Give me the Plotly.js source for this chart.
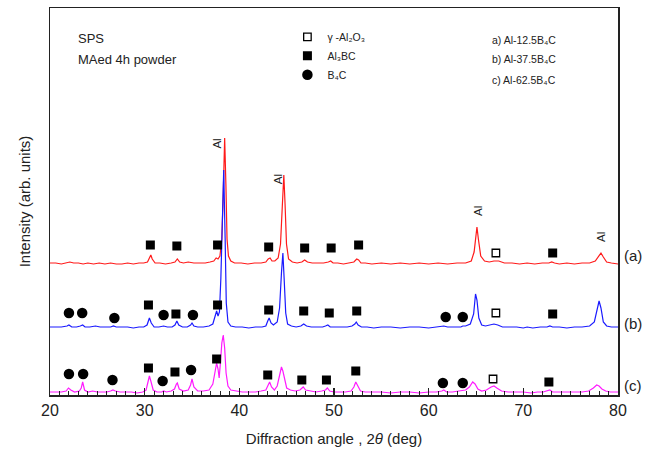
<!DOCTYPE html>
<html><head><meta charset="utf-8">
<script src="https://cdn.plot.ly/plotly-3.0.1.min.js"></script>
<style>html,body{margin:0;padding:0;background:#fff}#chart{width:654px;height:455px}</style>
</head><body><div id="chart"></div>
<script>
// ---- data (2θ in deg, intensity in arbitrary units above each pattern's baseline) ----
const sampleLabels = ['(a)', '(b)', '(c)'];
const sampleNames = ['Al-12.5B₄C', 'Al-37.5B₄C', 'Al-62.5B₄C'];
const phaseNames = ['γ -Al₂O₃', 'Al₃BC', 'B₄C'];
const baselines = [131, 67, 2];

const patternA = [[20,1],[20.6,1],[21.2,0],[21.8,1],[22.1,2],[22.5,1],[23,1],[23.5,0],[24,1],[24.6,0],[25.2,1],[25.8,0],[26.4,1],[27,0],[27.6,0],[28.2,1],[28.8,0],[29.4,1],[29.9,1],[30.3,2],[30.5,6],[30.65,9],[30.8,5],[31.1,1],[31.6,1],[32.2,0],[32.8,1],[33.2,2],[33.45,5],[33.7,2],[34.1,1],[34.6,2],[35.2,1],[35.8,1],[36.4,1],[36.9,2],[37.3,3],[37.55,6],[37.75,5],[37.95,8],[38.15,25],[38.3,70],[38.45,126],[38.58,80],[38.7,25],[38.85,8],[39.1,3],[39.5,1],[40.2,1],[40.9,0],[41.6,1],[42.3,1],[42.8,2],[43.05,5],[43.25,6],[43.45,3],[43.75,3],[44.1,6],[44.35,20],[44.55,60],[44.7,89],[44.83,60],[44.98,20],[45.2,5],[45.6,2],[46.1,1],[46.6,2],[46.9,4],[47.2,2],[47.7,1],[48.3,1],[48.9,1],[49.4,2],[49.65,3],[49.9,1],[50.4,1],[51,0],[51.6,1],[52.1,2],[52.4,5],[52.6,4],[52.85,1],[53.3,1],[54,0],[55,1],[56,0],[57,1],[58,0],[59,1],[60,0],[61,1],[62,0],[63,1],[63.9,1],[64.5,3],[64.8,12],[65.0,32],[65.1,37],[65.25,25],[65.5,8],[65.9,3],[66.4,2],[66.9,3],[67.4,3],[68,1],[68.8,1],[69.6,0],[70.4,1],[71.2,0],[72,1],[72.7,1],[73.0,2],[73.3,1],[73.8,0],[74.6,1],[75.4,0],[76.2,1],[77,1],[77.6,3],[77.95,8],[78.2,11],[78.45,7],[78.8,2],[79.3,1],[80,0]];

const patternB = [[20,1],[20.6,1],[21.2,1],[21.8,2],[22.0,3],[22.3,1],[22.8,1],[23.2,2],[23.45,3],[23.7,1],[24.2,1],[24.8,2],[25.3,1],[25.9,1],[26.4,1],[26.7,2],[27,1],[27.6,1],[28.2,1],[28.8,0],[29.4,1],[29.9,1],[30.25,3],[30.5,10],[30.7,5],[31,1],[31.5,1],[32.0,2],[32.4,1],[32.9,1],[33.2,3],[33.4,7],[33.6,3],[34,1],[34.5,1],[34.85,3],[35.0,5],[35.2,2],[35.6,1],[36.2,1],[36.8,2],[37.2,4],[37.45,14],[37.6,17],[37.75,12],[37.9,16],[38.05,50],[38.2,120],[38.35,158],[38.5,90],[38.62,25],[38.8,6],[39.1,2],[39.6,1],[40.3,1],[41,0],[41.7,1],[42.4,1],[42.8,2],[43.0,7],[43.15,10],[43.35,5],[43.6,3],[44.0,6],[44.25,20],[44.45,55],[44.6,75],[44.73,50],[44.9,15],[45.1,4],[45.5,2],[46,1],[46.5,2],[46.8,4],[47.1,2],[47.6,1],[48.2,1],[48.8,1],[49.1,2],[49.35,3],[49.6,1],[50.2,1],[50.8,1],[51.4,1],[51.9,2],[52.2,4],[52.35,6],[52.55,3],[52.9,1],[53.5,1],[54.2,0],[55,1],[56,1],[57,0],[58,1],[59,1],[60,0],[61,1],[61.6,2],[62,1],[62.8,1],[63.4,1],[63.6,2],[63.9,2],[64.4,4],[64.75,14],[64.95,34],[65.1,28],[65.3,10],[65.6,3],[66,2],[66.5,3],[66.9,4],[67.3,3],[67.8,1],[68.5,1],[69.3,1],[70,0],[70.4,1],[71,0],[71.8,1],[72.5,1],[72.8,2],[73.1,1],[73.8,1],[74.6,0],[75.4,1],[76.2,1],[77,2],[77.5,6],[77.8,18],[78.0,27],[78.2,20],[78.45,6],[78.8,2],[79.3,1],[80,1]];

const patternC = [[20,1],[20.6,1],[21.2,1],[21.7,2],[21.95,5],[22.2,3],[22.6,1],[23.1,2],[23.3,5],[23.45,11],[23.65,3],[24,1],[24.5,2],[25,1],[25.5,1],[26,1],[26.4,2],[26.65,3],[26.9,2],[27.4,1],[28,1],[28.6,1],[29.2,0],[29.8,1],[30.15,3],[30.35,10],[30.5,17],[30.65,12],[30.9,3],[31.3,1],[31.8,1],[32.0,2],[32.3,1],[32.8,2],[33.15,4],[33.35,9],[33.45,10],[33.65,4],[34.1,2],[34.6,3],[34.85,8],[35.0,14],[35.2,6],[35.6,2],[36.2,2],[36.8,3],[37.2,9],[37.45,22],[37.6,30],[37.75,24],[37.87,15],[38.0,30],[38.15,50],[38.3,58],[38.45,45],[38.6,20],[38.8,7],[39.1,3],[39.6,2],[40.3,1],[41,1],[41.7,1],[42.3,2],[42.8,3],[43.05,8],[43.2,11],[43.4,6],[43.7,3],[44,7],[44.25,17],[44.45,26],[44.6,22],[44.8,12],[45.0,5],[45.4,3],[45.9,2],[46.4,3],[46.75,6],[47.0,3],[47.5,2],[48.1,1],[48.7,2],[49.1,3],[49.3,5],[49.55,2],[50,1],[50.6,1],[51.2,1],[51.8,2],[52.1,6],[52.3,11],[52.5,7],[52.8,2],[53.3,1],[54,1],[55,1],[56,0],[57,1],[58,1],[59,0],[60,1],[60.8,1],[61.4,2],[61.6,3],[61.9,1],[62.5,1],[63.2,2],[63.6,3],[63.9,3],[64.3,6],[64.65,11],[64.9,9],[65.2,4],[65.6,2],[66.1,3],[66.6,6],[66.9,7],[67.2,5],[67.7,2],[68.4,1],[69.2,1],[70,1],[70.8,0],[71.5,1],[72.1,1],[72.5,2],[72.8,3],[73.1,1],[73.8,1],[74.6,1],[75.4,1],[76.2,1],[76.9,2],[77.4,5],[77.75,8],[78.0,7],[78.3,4],[78.7,2],[79.2,1],[79.6,1],[80,1]];

// phase markers (2θ, plotted height)
const al2o3X = [67.1, 67.1, 66.8];
const al2o3Y = [142, 82, 16];
const al3bcX = [30.6,33.4,37.7,43.1,46.9,49.7,52.6,73.1, 30.4,33.3,37.7,43.1,46.8,49.5,52.4,73.1, 30.4,33.2,37.6,43.0,46.6,49.2,52.3,72.7];
const al3bcY = [150,149,150,148,147,147,150,142, 90,81,90,85,84,82,84,81, 27,23,36,20,15,15,24,13];
const b4cX = [22.0,23.4,26.8,32.0,35.1,61.8,63.6, 22.0,23.5,26.6,31.9,34.9,61.5,63.6];
const b4cY = [82,82,77,80,80,78,78, 21,21,15,14,25,12,12];

// Al peak labels
const alLabelX = [37.6, 44.1, 65.2, 78.2];
const alLabelY = [251, 216, 184, 158];

// ---- drawing ----
const FONT = 'Liberation Sans, Arial, Helvetica, DejaVu Sans, sans-serif';
const colors = ['#ff1a1a', '#1a1aff', '#ff1aff'];
const patterns = [patternA, patternB, patternC];

const traces = patterns.map((p, i) => ({
  type: 'scatter', mode: 'lines', name: sampleNames[i], showlegend: false,
  x: p.map(d => d[0]), y: p.map(d => d[1] + baselines[i]),
  line: {color: colors[i], width: 1.2}, hoverinfo: 'skip'
}));

traces.push({type:'scatter', mode:'markers', name: phaseNames[0], x: al2o3X, y: al2o3Y,
  marker:{symbol:'square-open', size:7.5, color:'#000', line:{width:1.3, color:'#000'}}});
traces.push({type:'scatter', mode:'markers', name: phaseNames[1], x: al3bcX, y: al3bcY,
  marker:{symbol:'square', size:9, color:'#000'}});
traces.push({type:'scatter', mode:'markers', name: phaseNames[2], x: b4cX, y: b4cY,
  marker:{symbol:'circle', size:10.5, color:'#000'}});

const annotations = [];
alLabelX.forEach((x, i) => annotations.push({x, y: alLabelY[i], xref:'x', yref:'y', text:'Al', textangle:-90,
  showarrow:false, yanchor:'middle', xanchor:'center', font:{size:11.5, color:'#222', family:FONT}}));
const labelY = [140, 72, 10];
sampleLabels.forEach((t, i) => annotations.push({x:1, xref:'paper', y: labelY[i], yref:'y', xshift:4, text:t,
  xanchor:'left', yanchor:'middle', showarrow:false, font:{size:15, color:'#222', family:FONT}}));
annotations.push({x:0.046, y:0.92, xref:'paper', yref:'paper', xanchor:'left', yanchor:'middle', text:'SPS', showarrow:false, font:{size:13, color:'#222', family:FONT}});
annotations.push({x:0.046, y:0.866, xref:'paper', yref:'paper', xanchor:'left', yanchor:'middle', text:'MAed 4h powder', showarrow:false, font:{size:13, color:'#222', family:FONT}});
const compY = [0.917, 0.869, 0.815];
['a) ', 'b) ', 'c) '].forEach((p, i) =>
  annotations.push({x:0.894, y: compY[i], xref:'paper', yref:'paper', xanchor:'right', yanchor:'middle', text: p + sampleNames[i], showarrow:false,
    font:{size:10.5, color:'#222', family:FONT}}));

const layout = {
  width:654, height:455,
  margin:{l:50, r:36, t:8, b:60},
  paper_bgcolor:'#fff', plot_bgcolor:'#fff',
  font:{family:FONT, color:'#222', size:12},
  showlegend:true,
  legend:{x:0.418, y:0.963, xanchor:'left', yanchor:'top', bgcolor:'rgba(0,0,0,0)', font:{size:10.5, family:FONT, color:'#222'}, tracegroupgap:0},
  xaxis:{range:[20,80], tick0:20, dtick:10, ticks:'inside', ticklen:7, tickwidth:1.2, tickcolor:'#222',
    minor:{dtick:1, ticks:'inside', ticklen:4, tickwidth:1, tickcolor:'#222'},
    showline:true, mirror:true, linecolor:'#222', linewidth:1.5, showgrid:false, zeroline:false,
    tickfont:{size:16, family:FONT, color:'#222'},
    title:{text:'Diffraction angle , 2<i>θ</i> (deg)', font:{size:15, family:FONT, color:'#222'}, standoff:16}},
  yaxis:{range:[0,387], showticklabels:false, ticks:'', showline:true, mirror:true, linecolor:'#222', linewidth:1.5,
    showgrid:false, zeroline:false,
    title:{text:'Intensity (arb. units)', font:{size:15, family:FONT, color:'#222'}, standoff:14}},
  annotations
};

Plotly.newPlot('chart', traces, layout, {displayModeBar:false, staticPlot:true});
</script>
</body></html>
